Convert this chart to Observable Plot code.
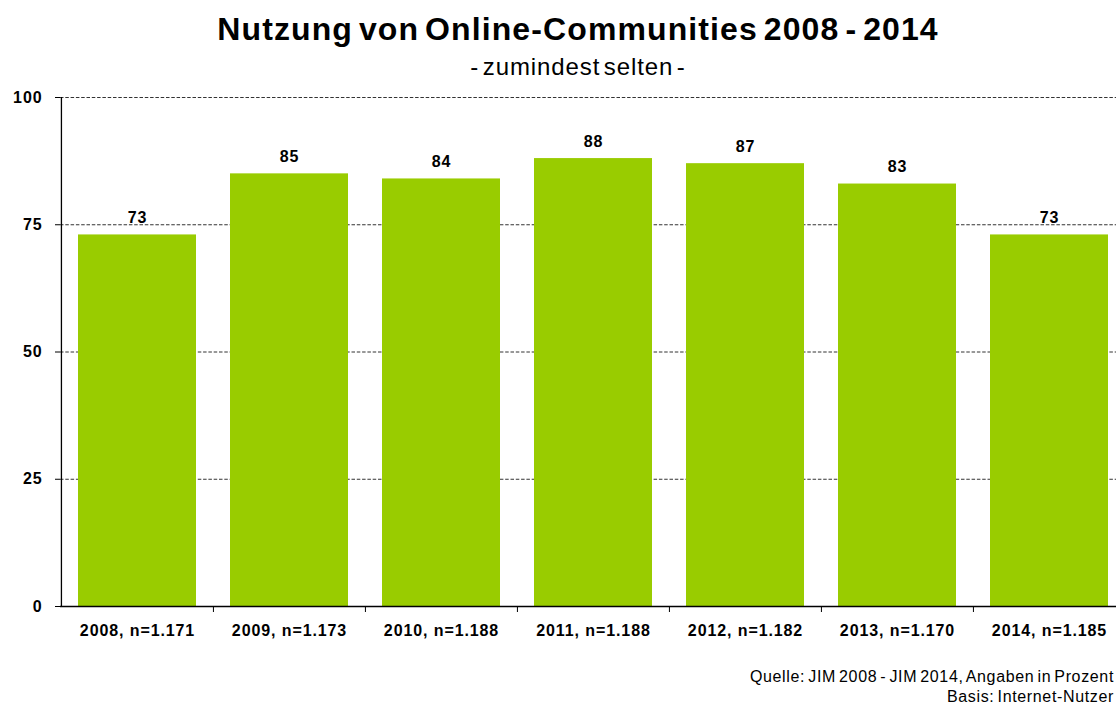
<!DOCTYPE html>
<html><head><meta charset="utf-8">
<script src="https://cdn.jsdelivr.net/npm/d3@7"></script>
<script src="https://cdn.jsdelivr.net/npm/@observablehq/plot@0.6"></script>
<style>
body{margin:0;background:#fff;font-family:"Liberation Sans",Arial,sans-serif;width:1116px;overflow:hidden;}
#header{position:relative;height:80px;padding-left:40px;}
#title{position:absolute;left:40px;right:0;top:13px;text-align:center;font-weight:bold;font-size:32px;line-height:32px;letter-spacing:1.1px;word-spacing:-4px;color:#000;white-space:nowrap;}
#subtitle{position:absolute;left:40px;right:0;top:55px;text-align:center;font-size:24px;line-height:24px;letter-spacing:0.9px;word-spacing:-4px;color:#000;white-space:nowrap;}
#caption{text-align:right;font-size:16px;line-height:20px;letter-spacing:0.65px;word-spacing:-2px;color:#000;padding-right:2px;margin-top:17px;}
#chart svg{overflow:hidden;}
#chart svg text{font-size:16px;font-weight:bold;font-family:"Liberation Sans",Arial,sans-serif;fill:#000;letter-spacing:0.9px;}
</style></head>
<body>
<div id="header">
<div id="title">Nutzung von Online-Communities 2008 - 2014</div>
<div id="subtitle">- zumindest selten -</div>
</div>
<div id="chart"></div>
<div id="caption">Quelle: JIM 2008 - JIM 2014, Angaben in Prozent<br>Basis: Internet-Nutzer</div>
<script>
const categories = ["2008, n=1.171","2009, n=1.173","2010, n=1.188","2011, n=1.188","2012, n=1.182","2013, n=1.170","2014, n=1.185"];
const values = [73,85,84,88,87,83,73];
const yTicks = [0,25,50,75,100];

const data = categories.map((c,i)=>({cat:c, v:values[i]}));
const W = 1116, mL = 60, mR = -9;
const step = (W - mL - mR) / categories.length;

const chart = Plot.plot({
  width: W, height: 570,
  marginLeft: mL, marginRight: mR, marginTop: 17, marginBottom: 44,
  style: {fontFamily: '"Liberation Sans", Arial, sans-serif', fontSize: "16px", fontWeight: "bold", color: "#000"},
  x: {domain: categories, paddingInner: 0.225, paddingOuter: 0.1125, label: null},
  y: {domain: [0,100], label: null},
  marks: [
    Plot.ruleY(yTicks.filter(d=>d>0), {stroke:"#333", strokeDasharray:"3.5,1.8", strokeWidth:1}),
    Plot.barY(data, {x:"cat", y:"v", fill:"#99CC00"}),
    Plot.text(data, {x:"cat", y:"v", text: d=>String(d.v), lineAnchor:"bottom", dy:-12, fontSize:16, fontWeight:"bold", fill:"#000"}),
    Plot.ruleY([0], {stroke:"#000", strokeWidth:1.3}),
    Plot.ruleX([0], {x: ()=>categories[0], dx: -step/2, y1:0, y2:100, stroke:"#000", strokeWidth:1.3}),
    Plot.ruleX(categories.slice(1), {dx: -step/2, y1:0, y2:0, insetBottom:-6, stroke:"#000"}),
    Plot.axisY({ticks: yTicks, tickSize:5, tickPadding:13, stroke:"#000", strokeOpacity:1, label:null}),
    Plot.axisX({tickSize:0, tickPadding:18, label:null})
  ]
});
document.getElementById("chart").appendChild(chart);
</script>
</body></html>
